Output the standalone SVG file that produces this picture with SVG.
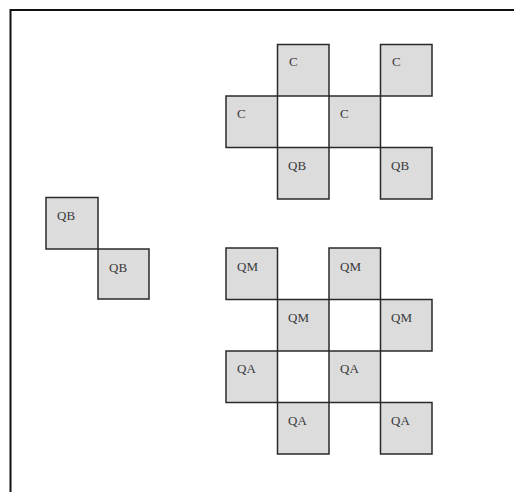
<svg xmlns="http://www.w3.org/2000/svg" width="514" height="492" viewBox="0 0 514 492">
<style>
.cell{fill:#dcdcdc;stroke:#2a2a2a;stroke-width:1.5}
.lbl{font-family:"Liberation Serif",serif;font-size:13px;fill:#3a3a3a}
.frame{stroke:#111;stroke-width:2;fill:none}
</style>
<rect width="514" height="492" fill="#fff"/>
<g id="frame"><path class="frame" d="M514,10 H10.5 V492"/></g>
<g id="left-group">
<g id="l1"><rect class="cell" x="46" y="197.5" width="52" height="51.5"/><text class="lbl" x="57" y="220">QB</text></g>
<g id="l2"><rect class="cell" x="98" y="249" width="51" height="50"/><text class="lbl" x="109" y="272">QB</text></g>
</g>
<g id="top-group">
<g id="t1"><rect class="cell" x="277.5" y="44.5" width="51.5" height="51.5"/><text class="lbl" x="289" y="66">C</text></g>
<g id="t2"><rect class="cell" x="380.5" y="44.5" width="51.5" height="51.5"/><text class="lbl" x="392" y="66">C</text></g>
<g id="t3"><rect class="cell" x="226" y="96" width="51.5" height="51.5"/><text class="lbl" x="237" y="118">C</text></g>
<g id="t4"><rect class="cell" x="329" y="96" width="51.5" height="51.5"/><text class="lbl" x="340" y="118">C</text></g>
<g id="t5"><rect class="cell" x="277.5" y="147.5" width="51.5" height="51.5"/><text class="lbl" x="288" y="170">QB</text></g>
<g id="t6"><rect class="cell" x="380.5" y="147.5" width="51.5" height="51.5"/><text class="lbl" x="391" y="170">QB</text></g>
</g>
<g id="bottom-group">
<g id="b1"><rect class="cell" x="226" y="248" width="51.5" height="51.5"/><text class="lbl" x="237" y="271">QM</text></g>
<g id="b2"><rect class="cell" x="329" y="248" width="51.5" height="51.5"/><text class="lbl" x="340" y="271">QM</text></g>
<g id="b3"><rect class="cell" x="277.5" y="299.5" width="51.5" height="51.5"/><text class="lbl" x="288" y="322">QM</text></g>
<g id="b4"><rect class="cell" x="380.5" y="299.5" width="51.5" height="51.5"/><text class="lbl" x="391" y="322">QM</text></g>
<g id="b5"><rect class="cell" x="226" y="351" width="51.5" height="51.5"/><text class="lbl" x="237" y="373">QA</text></g>
<g id="b6"><rect class="cell" x="329" y="351" width="51.5" height="51.5"/><text class="lbl" x="340" y="373">QA</text></g>
<g id="b7"><rect class="cell" x="277.5" y="402.5" width="51.5" height="51.5"/><text class="lbl" x="288" y="425">QA</text></g>
<g id="b8"><rect class="cell" x="380.5" y="402.5" width="51.5" height="51.5"/><text class="lbl" x="391" y="425">QA</text></g>
</g>
</svg>
